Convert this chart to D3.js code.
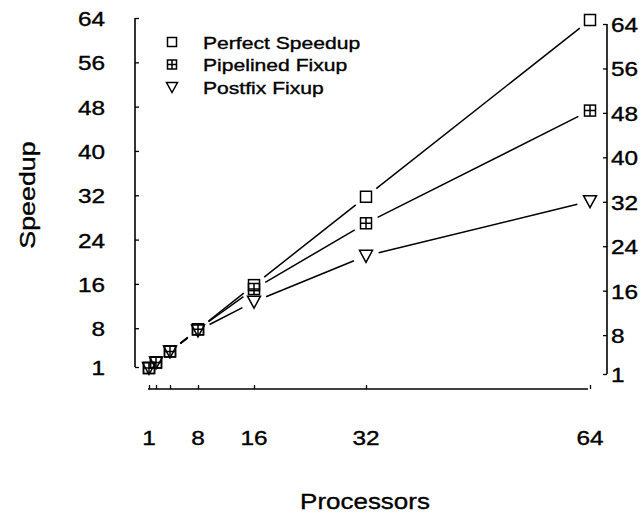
<!DOCTYPE html>
<html>
<head>
<meta charset="utf-8">
<script src="https://cdn.jsdelivr.net/npm/d3@7"></script>
<style>
  body { margin: 0; background: #fff; }
  svg text { font-family: "Liberation Sans", Arial, Helvetica, sans-serif; fill: #000; stroke: #000; stroke-width: 0.35px; }
</style>
</head>
<body>
<svg id="chart" width="641" height="517"></svg>
<script>
// data
var processors = [1, 2, 4, 8, 16, 32, 64];
var perfectSpeedup = [1, 2, 4, 8, 16, 32, 64];
var pipelinedFixup = [1, 2, 4, 8, 15.3, 27.2, 47.6];
var postfixFixup = [1, 2, 4, 7.8, 13.0, 21.3, 31.2];
var seriesNames = ["Perfect Speedup", "Pipelined Fixup", "Postfix Fixup"];
var seriesShapes = ["square", "boxplus", "triangle"];
var yTicks = [1, 8, 16, 24, 32, 40, 48, 56, 64];
var xTicks = [1, 2, 4, 8, 16, 32, 64];
var xLabels = [1, 8, 16, 32, 64];

var svg = d3.select("#chart");

// scales (the scan is slightly skewed, so the right axis sits a bit lower)
var x = d3.scaleLinear().domain([1, 64]).range([149, 590]);
var y = d3.scaleLinear().domain([1, 64]).range([368, 20]);
var yLeft = d3.scaleLinear().domain([1, 64]).range([367, 18]);
var yRight = d3.scaleLinear().domain([1, 64]).range([374, 24]);

// stretched text helper, the original lettering is wide
function label(g, txt, px, py, size, sx, anchor, rotate) {
	var t = g.append("g")
		.attr("transform", "translate(" + px + "," + py + ")" + (rotate ? " rotate(" + rotate + ")" : ""))
		.append("text")
		.attr("transform", "scale(" + sx + ",1)")
		.attr("dy", "0.36em")
		.attr("font-size", size)
		.attr("text-anchor", anchor)
		.text(txt);
	return t;
}

// left axis
var leftAxis = d3.axisLeft(yLeft).tickValues(yTicks).tickSize(-4).tickFormat("");
svg.append("g").attr("transform", "translate(135,0)").call(leftAxis)
	.call(function (g) { g.select(".domain").attr("stroke-width", 1.6).attr("d", "M0," + yLeft(1) + "V" + yLeft(64)); })
	.selectAll("line").attr("stroke-width", 1.3);
var leftLabels = svg.append("g");
yTicks.forEach(function (v) { label(leftLabels, v, 105, yLeft(v) + 1, 19.5, 1.25, "end"); });

// right axis
var rightAxis = d3.axisRight(yRight).tickValues(yTicks).tickSize(-4).tickFormat("");
svg.append("g").attr("transform", "translate(607,0)").call(rightAxis)
	.call(function (g) { g.select(".domain").attr("stroke-width", 1.6).attr("d", "M0," + yRight(1) + "V" + yRight(64)); })
	.selectAll("line").attr("stroke-width", 1.3);
var rightLabels = svg.append("g");
yTicks.forEach(function (v) { label(rightLabels, v, 611, yRight(v) + 1, 19.5, 1.25, "start"); });

// bottom axis
var bottomAxis = d3.axisBottom(x).tickValues(xTicks).tickSize(-4).tickFormat("");
svg.append("g").attr("transform", "translate(0,389)").call(bottomAxis)
	.call(function (g) { g.select(".domain").attr("stroke-width", 1.6).attr("d", "M" + (x(1) - 1) + ",0H" + (x(64) - 2)); })
	.selectAll("line").attr("stroke-width", 1.3);
var bottomLabels = svg.append("g");
xLabels.forEach(function (v) { label(bottomLabels, v, x(v), 438, 19.5, 1.25, "middle"); });

// axis titles
label(svg, "Processors", 365, 501, 22, 1.18, "middle");
label(svg, "Speedup", 27, 195, 22, 1.22, "middle", -90);

// marker shapes
function marker(g, shape, cx, cy, s) {
	var h = s / 2;
	var m = g.append("g").attr("fill", "none").attr("stroke", "#000").attr("stroke-width", 1.5);
	if (shape === "square" || shape === "boxplus") {
		m.append("rect").attr("x", cx - h).attr("y", cy - h).attr("width", s).attr("height", s);
	}
	if (shape === "boxplus") {
		m.append("path").attr("d", "M" + cx + "," + (cy - h) + "V" + (cy + h) + "M" + (cx - h) + "," + cy + "H" + (cx + h));
	}
	if (shape === "triangle") {
		m.append("path").attr("d", "M" + (cx - h - 1) + "," + (cy - h) + "L" + (cx + h + 1) + "," + (cy - h) + "L" + cx + "," + (cy + h + 1) + "Z");
	}
}

// lines with gaps round each marker
var gap = 13;
var allSeries = [perfectSpeedup, pipelinedFixup, postfixFixup];
var plot = svg.append("g");
allSeries.forEach(function (vals, si) {
	for (var i = 0; i < vals.length - 1; i++) {
		var x0 = x(processors[i]), y0 = y(vals[i]);
		var x1 = x(processors[i + 1]), y1 = y(vals[i + 1]);
		var len = Math.hypot(x1 - x0, y1 - y0);
		if (len <= 2 * gap + 2) continue;
		var ux = (x1 - x0) / len, uy = (y1 - y0) / len;
		plot.append("line")
			.attr("x1", x0 + ux * gap).attr("y1", y0 + uy * gap)
			.attr("x2", x1 - ux * gap).attr("y2", y1 - uy * gap)
			.attr("stroke", "#000").attr("stroke-width", 1.5);
	}
	vals.forEach(function (v, i) {
		marker(plot, seriesShapes[si], x(processors[i]), y(v), 11);
	});
});

// legend
var legend = svg.append("g");
seriesNames.forEach(function (name, i) {
	var ly = 42 + i * 22.5;
	marker(legend, seriesShapes[i], 172, ly, 9);
	label(legend, name, 203, ly + 1, 16.5, 1.28, "start");
});
</script>
</body>
</html>
